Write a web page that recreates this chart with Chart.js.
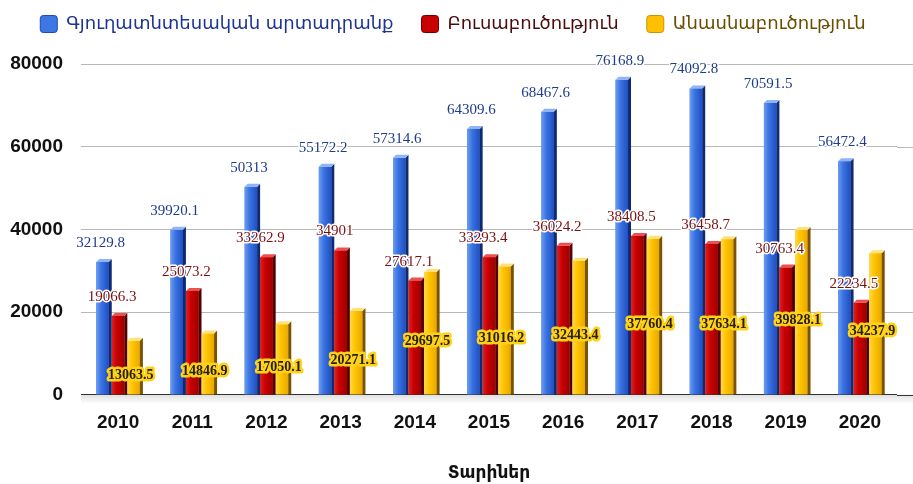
<!DOCTYPE html>
<html lang="hy">
<head>
    <meta charset="UTF-8">
    <title>Արտադրանք ըստ տարիների</title>
    <script src="https://cdn.jsdelivr.net/npm/chart.js@4"></script>
    <style>
        html, body {
            margin: 0;
            padding: 0;
            background: #fff;
        }

        .chart-box {
            position: relative;
            width: 913px;
            height: 484px;
        }
    </style>
</head>
<body>
    <div class="chart-box">
        <canvas id="prodChart"></canvas>
    </div>

    <script>
        // data
        const years = ['2010', '2011', '2012', '2013', '2014', '2015', '2016', '2017', '2018', '2019', '2020'];
        const seriesNames = ['Գյուղատնտեսական արտադրանք', 'Բուսաբուծություն', 'Անասնաբուծություն'];
        const agriculture = [32129.8, 39920.1, 50313, 55172.2, 57314.6, 64309.6, 68467.6, 76168.9, 74092.8, 70591.5, 56472.4];
        const cropFarming = [19066.3, 25073.2, 33262.9, 34901, 27617.1, 33293.4, 36024.2, 38408.5, 36458.7, 30763.4, 22234.5];
        const livestock = [13063.5, 14846.9, 17050.1, 20271.1, 29697.5, 31016.2, 32443.4, 37760.4, 37634.1, 39828.1, 34237.9];
        const yTicks = [0, 20000, 40000, 60000, 80000];
        const xTitle = 'Տարիներ';

        // look of each series
        const palette = [
            { front: ['#6b9cf3', '#3a73e0', '#1f4fc4'], side: '#0f2a70', top: '#8fb4f7', box: '#3d77e3', boxBorder: '#1d4bb0',
              legendText: '#1b3590', label: '#1e3b8c', halo: '#ffffff', haloWidth: 3, font: '15px "Liberation Serif"', inside: false, shift: -2 },
            { front: ['#e02020', '#c80000', '#a00000'], side: '#520000', top: '#ee5050', box: '#c80000', boxBorder: '#6e0000',
              legendText: '#4a0c0c', label: '#7c1010', halo: '#ffffff', haloWidth: 3, font: '15px "Liberation Serif"', inside: false, shift: -6 },
            { front: ['#ffd84a', '#ffc400', '#e8a800'], side: '#7a5200', top: '#ffe27a', box: '#ffc000', boxBorder: '#c99400',
              legendText: '#6a4e00', label: '#2a2000', halo: '#ffd21a', haloWidth: 5, font: 'bold 14px "Liberation Serif"', inside: true, shift: -3 }
        ];

        // 3D side and top of every bar
        const bars3d = {
            id: 'bars3d',
            afterDatasetsDraw(chart) {
                const ctx = chart.ctx;
                const d = 3;
                ctx.save();
                chart.data.datasets.forEach((ds, i) => {
                    const look = palette[i];
                    chart.getDatasetMeta(i).data.forEach(bar => {
                        const p = bar.getProps(['x', 'y', 'base', 'width'], true);
                        const left = p.x - p.width / 2;
                        const right = p.x + p.width / 2;
                        const g = ctx.createLinearGradient(left, 0, right, 0);
                        g.addColorStop(0, look.front[0]);
                        g.addColorStop(0.4, look.front[1]);
                        g.addColorStop(1, look.front[2]);
                        ctx.fillStyle = g;
                        ctx.fillRect(left, p.y, p.width, p.base - p.y);

                        ctx.fillStyle = look.side;
                        ctx.beginPath();
                        ctx.moveTo(right, p.y);
                        ctx.lineTo(right + d, p.y - d);
                        ctx.lineTo(right + d, p.base);
                        ctx.lineTo(right, p.base);
                        ctx.closePath();
                        ctx.fill();

                        ctx.fillStyle = look.top;
                        ctx.beginPath();
                        ctx.moveTo(left, p.y);
                        ctx.lineTo(left + d, p.y - d);
                        ctx.lineTo(right + d, p.y - d);
                        ctx.lineTo(right, p.y);
                        ctx.closePath();
                        ctx.fill();
                    });
                });
                ctx.restore();
            }
        };

        // value labels over / inside the bars
        const valueLabels = {
            id: 'valueLabels',
            afterDatasetsDraw(chart) {
                const ctx = chart.ctx;
                ctx.save();
                ctx.textAlign = 'center';
                ctx.textBaseline = 'middle';
                ctx.lineJoin = 'round';
                chart.data.datasets.forEach((ds, i) => {
                    const look = palette[i];
                    ctx.font = look.font;
                    chart.getDatasetMeta(i).data.forEach((bar, j) => {
                        const p = bar.getProps(['x', 'y', 'base'], true);
                        const lx = p.x + look.shift;
                        const ly = look.inside ? (p.y + p.base) / 2 + 8 : p.y - 19;
                        const text = String(ds.data[j]);
                        ctx.strokeStyle = look.halo;
                        ctx.lineWidth = look.haloWidth;
                        ctx.strokeText(text, lx, ly);
                        ctx.fillStyle = look.label;
                        ctx.fillText(text, lx, ly);
                    });
                });
                ctx.restore();
            }
        };

        // grid lines run on to the right edge, soft floor under zero
        const gridTail = {
            id: 'gridTail',
            beforeDatasetsDraw(chart) {
                const ctx = chart.ctx;
                const area = chart.chartArea;
                const yScale = chart.scales.y;
                ctx.save();
                const floor = ctx.createLinearGradient(0, area.bottom, 0, area.bottom + 9);
                floor.addColorStop(0, 'rgba(0,0,0,0.12)');
                floor.addColorStop(1, 'rgba(0,0,0,0)');
                ctx.fillStyle = floor;
                ctx.fillRect(area.left, area.bottom, chart.width - area.left, 9);
                yTicks.forEach(v => {
                    const y = Math.round(yScale.getPixelForValue(v)) + 0.5;
                    ctx.strokeStyle = v === 0 ? '#333' : '#b8b8b8';
                    ctx.lineWidth = 1;
                    ctx.beginPath();
                    ctx.moveTo(area.right, y);
                    ctx.lineTo(chart.width, y);
                    ctx.stroke();
                });
                ctx.restore();
            }
        };

        // more room under the legend
        const legendGap = {
            id: 'legendGap',
            beforeInit(chart) {
                const fit = chart.legend.fit;
                chart.legend.fit = function () {
                    fit.bind(chart.legend)();
                    this.height += 21;
                };
            }
        };

        const ctx = document.getElementById('prodChart').getContext('2d');
        new Chart(ctx, {
            type: 'bar',
            data: {
                labels: years,
                datasets: [
                    { label: seriesNames[0], data: agriculture, backgroundColor: palette[0].front[1] },
                    { label: seriesNames[1], data: cropFarming, backgroundColor: palette[1].front[1] },
                    { label: seriesNames[2], data: livestock, backgroundColor: palette[2].front[1] }
                ]
            },
            options: {
                responsive: true,
                maintainAspectRatio: false,
                animation: false,
                barPercentage: 0.8,
                categoryPercentage: 0.63,
                layout: {
                    padding: { left: 9, right: 16, top: -13, bottom: 0 }
                },
                plugins: {
                    tooltip: { enabled: false },
                    legend: {
                        position: 'top',
                        labels: {
                            boxWidth: 17,
                            boxHeight: 17,
                            padding: 28,
                            useBorderRadius: true,
                            borderRadius: 3,
                            font: { family: 'DejaVu Sans', size: 18 },
                            generateLabels(chart) {
                                const items = Chart.defaults.plugins.legend.labels.generateLabels(chart);
                                items.forEach((it, i) => {
                                    it.fillStyle = palette[i].box;
                                    it.strokeStyle = palette[i].boxBorder;
                                    it.lineWidth = 1;
                                    it.fontColor = palette[i].legendText;
                                });
                                return items;
                            }
                        }
                    }
                },
                scales: {
                    x: {
                        grid: { display: false },
                        border: { display: false },
                        ticks: {
                            color: '#111',
                            padding: 9,
                            font: { family: 'Liberation Sans', size: 19, weight: 'bold' }
                        },
                        title: {
                            display: true,
                            text: xTitle,
                            color: '#111',
                            font: { family: 'DejaVu Sans', size: 17, weight: 'bold' },
                            padding: { top: 20, bottom: 0 }
                        }
                    },
                    y: {
                        min: yTicks[0],
                        max: yTicks[yTicks.length - 1],
                        border: { display: false },
                        afterFit(scale) {
                            scale.width = 72;
                        },
                        grid: {
                            drawTicks: false,
                            color: c => c.tick && c.tick.value === 0 ? '#333' : '#b8b8b8'
                        },
                        ticks: {
                            stepSize: yTicks[1] - yTicks[0],
                            padding: 18,
                            color: '#111',
                            font: { family: 'Liberation Sans', size: 19, weight: 'bold' },
                            callback: v => String(v)
                        }
                    }
                }
            },
            plugins: [legendGap, gridTail, bars3d, valueLabels]
        });
    </script>
</body>
</html>
